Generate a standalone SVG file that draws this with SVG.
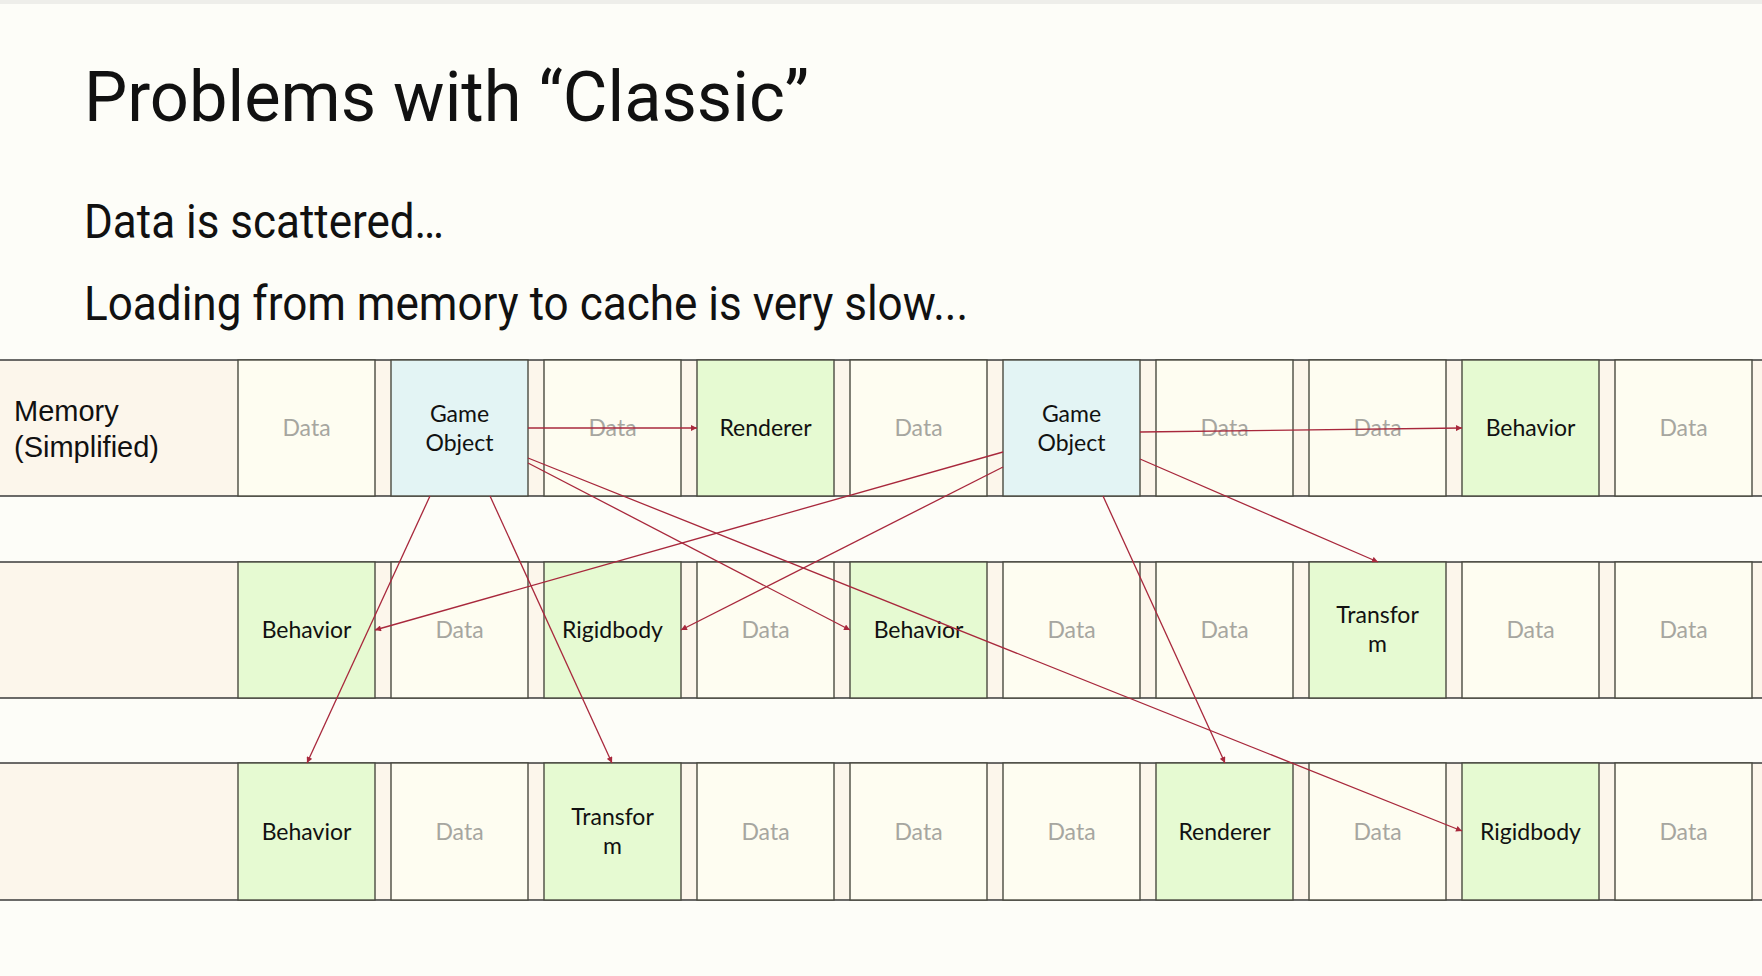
<svg xmlns="http://www.w3.org/2000/svg" width="1762" height="976" viewBox="0 0 1762 976">
  <defs>
    <style>
      .bg { fill: #fdfdf8; }
      .band { fill: #fcf6eb; stroke: none; }
      .hline { stroke: #3a3a3a; stroke-width: 1.6; }
      .cell { stroke: #4a4a40; stroke-width: 1.4; }
      .data { fill: #fefdf1; }
      .comp { fill: #e6fad2; }
      .obj { fill: #e3f4f4; }
      .title { font-family: Roboto, "Liberation Sans", sans-serif; fill: #111; }
      .mem { font-family: "Liberation Sans", Arial, sans-serif; font-size: 29px; fill: #111; }
      .lbl { font-family: Lato, "Open Sans", sans-serif; font-size: 23px; fill: #111; text-anchor: middle; }
      .dim { fill: #a6a6a0; }
      .link { stroke: #a8283c; stroke-width: 1.3; fill: none; marker-end: url(#tip); }
    </style>
    <marker id="tip" viewBox="0 0 10 10" refX="10" refY="5" markerWidth="7" markerHeight="6" markerUnits="userSpaceOnUse" orient="auto">
      <path d="M0,0 L10,5 L0,10 z" fill="#a8283c"/>
    </marker>
  </defs>

  <rect class="bg" x="0" y="0" width="1762" height="976"/>
  <rect x="0" y="0" width="1762" height="4" fill="#eeeeea"/>

  <!-- headings -->
  <g id="heading">
    <text class="title" x="84" y="121" font-size="71" textLength="725" lengthAdjust="spacingAndGlyphs">Problems with “Classic”</text>
    <text class="title" x="84" y="238" font-size="48" textLength="360" lengthAdjust="spacingAndGlyphs">Data is scattered…</text>
    <text class="title" x="84" y="320" font-size="48" textLength="884" lengthAdjust="spacingAndGlyphs">Loading from memory to cache is very slow...</text>
  </g>

  <!-- memory row 1 -->
  <g id="row1">
    <rect class="band" x="0" y="360" width="1762" height="136"/>
    <line class="hline" x1="0" y1="360" x2="1762" y2="360"/>
    <line class="hline" x1="0" y1="496" x2="1762" y2="496"/>
    <text class="mem" x="14" y="421">Memory</text>
    <text class="mem" x="14" y="457">(Simplified)</text>
  </g>
  <g id="r1c1"><rect class="cell data" x="238" y="360" width="137" height="136"/><text class="lbl dim" x="306.5" y="436">Data</text></g>
  <g id="r1c2"><rect class="cell obj" x="391" y="360" width="137" height="136"/><text class="lbl" x="459.5" y="422">Game</text><text class="lbl" x="459.5" y="451">Object</text></g>
  <g id="r1c3"><rect class="cell data" x="544" y="360" width="137" height="136"/><text class="lbl dim" x="612.5" y="436">Data</text></g>
  <g id="r1c4"><rect class="cell comp" x="697" y="360" width="137" height="136"/><text class="lbl" x="765.5" y="436">Renderer</text></g>
  <g id="r1c5"><rect class="cell data" x="850" y="360" width="137" height="136"/><text class="lbl dim" x="918.5" y="436">Data</text></g>
  <g id="r1c6"><rect class="cell obj" x="1003" y="360" width="137" height="136"/><text class="lbl" x="1071.5" y="422">Game</text><text class="lbl" x="1071.5" y="451">Object</text></g>
  <g id="r1c7"><rect class="cell data" x="1156" y="360" width="137" height="136"/><text class="lbl dim" x="1224.5" y="436">Data</text></g>
  <g id="r1c8"><rect class="cell data" x="1309" y="360" width="137" height="136"/><text class="lbl dim" x="1377.5" y="436">Data</text></g>
  <g id="r1c9"><rect class="cell comp" x="1462" y="360" width="137" height="136"/><text class="lbl" x="1530.5" y="436">Behavior</text></g>
  <g id="r1c10"><rect class="cell data" x="1615" y="360" width="137" height="136"/><text class="lbl dim" x="1683.5" y="436">Data</text></g>

  <!-- memory row 2 -->
  <g id="row2">
    <rect class="band" x="0" y="562" width="1762" height="136"/>
    <line class="hline" x1="0" y1="562" x2="1762" y2="562"/>
    <line class="hline" x1="0" y1="698" x2="1762" y2="698"/>
  </g>
  <g id="r2c1"><rect class="cell comp" x="238" y="562" width="137" height="136"/><text class="lbl" x="306.5" y="638">Behavior</text></g>
  <g id="r2c2"><rect class="cell data" x="391" y="562" width="137" height="136"/><text class="lbl dim" x="459.5" y="638">Data</text></g>
  <g id="r2c3"><rect class="cell comp" x="544" y="562" width="137" height="136"/><text class="lbl" x="612.5" y="638">Rigidbody</text></g>
  <g id="r2c4"><rect class="cell data" x="697" y="562" width="137" height="136"/><text class="lbl dim" x="765.5" y="638">Data</text></g>
  <g id="r2c5"><rect class="cell comp" x="850" y="562" width="137" height="136"/><text class="lbl" x="918.5" y="638">Behavior</text></g>
  <g id="r2c6"><rect class="cell data" x="1003" y="562" width="137" height="136"/><text class="lbl dim" x="1071.5" y="638">Data</text></g>
  <g id="r2c7"><rect class="cell data" x="1156" y="562" width="137" height="136"/><text class="lbl dim" x="1224.5" y="638">Data</text></g>
  <g id="r2c8"><rect class="cell comp" x="1309" y="562" width="137" height="136"/><text class="lbl" x="1377.5" y="623">Transfor</text><text class="lbl" x="1377.5" y="652">m</text></g>
  <g id="r2c9"><rect class="cell data" x="1462" y="562" width="137" height="136"/><text class="lbl dim" x="1530.5" y="638">Data</text></g>
  <g id="r2c10"><rect class="cell data" x="1615" y="562" width="137" height="136"/><text class="lbl dim" x="1683.5" y="638">Data</text></g>

  <!-- memory row 3 -->
  <g id="row3">
    <rect class="band" x="0" y="763" width="1762" height="137"/>
    <line class="hline" x1="0" y1="763" x2="1762" y2="763"/>
    <line class="hline" x1="0" y1="900" x2="1762" y2="900"/>
  </g>
  <g id="r3c1"><rect class="cell comp" x="238" y="763" width="137" height="137"/><text class="lbl" x="306.5" y="840">Behavior</text></g>
  <g id="r3c2"><rect class="cell data" x="391" y="763" width="137" height="137"/><text class="lbl dim" x="459.5" y="840">Data</text></g>
  <g id="r3c3"><rect class="cell comp" x="544" y="763" width="137" height="137"/><text class="lbl" x="612.5" y="825">Transfor</text><text class="lbl" x="612.5" y="854">m</text></g>
  <g id="r3c4"><rect class="cell data" x="697" y="763" width="137" height="137"/><text class="lbl dim" x="765.5" y="840">Data</text></g>
  <g id="r3c5"><rect class="cell data" x="850" y="763" width="137" height="137"/><text class="lbl dim" x="918.5" y="840">Data</text></g>
  <g id="r3c6"><rect class="cell data" x="1003" y="763" width="137" height="137"/><text class="lbl dim" x="1071.5" y="840">Data</text></g>
  <g id="r3c7"><rect class="cell comp" x="1156" y="763" width="137" height="137"/><text class="lbl" x="1224.5" y="840">Renderer</text></g>
  <g id="r3c8"><rect class="cell data" x="1309" y="763" width="137" height="137"/><text class="lbl dim" x="1377.5" y="840">Data</text></g>
  <g id="r3c9"><rect class="cell comp" x="1462" y="763" width="137" height="137"/><text class="lbl" x="1530.5" y="840">Rigidbody</text></g>
  <g id="r3c10"><rect class="cell data" x="1615" y="763" width="137" height="137"/><text class="lbl dim" x="1683.5" y="840">Data</text></g>

  <!-- references from each game object to its components -->
  <g id="connectors">
    <line class="link" x1="528" y1="428" x2="697" y2="428"/>
    <line class="link" x1="528" y1="463" x2="850" y2="630"/>
    <line class="link" x1="528" y1="458" x2="1462" y2="831"/>
    <line class="link" x1="430" y1="496" x2="307" y2="763"/>
    <line class="link" x1="490" y1="496" x2="612" y2="763"/>
    <line class="link" x1="1140" y1="432" x2="1462" y2="428"/>
    <line class="link" x1="1140" y1="459" x2="1378" y2="562"/>
    <line class="link" x1="1003" y1="452" x2="375" y2="630"/>
    <line class="link" x1="1003" y1="467" x2="681" y2="630"/>
    <line class="link" x1="1103" y1="496" x2="1225" y2="763"/>
  </g>
</svg>
